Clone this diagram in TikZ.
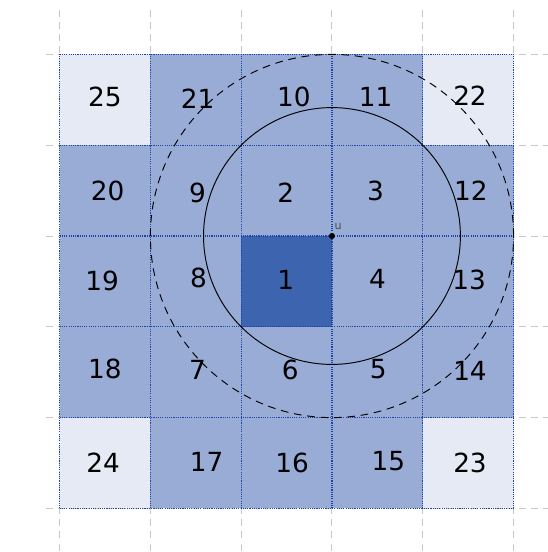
\documentclass[tikz,border=0pt]{standalone}
\usepackage{fontspec}
\setmainfont{DejaVu Sans}
\usepackage{tikz}
\definecolor{celllight}{HTML}{E5EAF5}
\definecolor{cellmid}{HTML}{99ACD6}
\definecolor{celldark}{HTML}{3D64AE}
\definecolor{cellline}{HTML}{1E44AA}
\definecolor{gridgray}{HTML}{C8C8C8}

\begin{document}
\begin{tikzpicture}[x=2cm, y=2cm,
    gridline/.style={gridgray, line width=0.6pt, dash pattern=on 4.4pt off 3.2pt},
    cellborder/.style={cellline, line width=0.7pt, dash pattern=on 0.7pt off 0.7pt},
    num/.style={font=\fontsize{16.5}{20}\selectfont, inner sep=0pt}]
    \useasboundingbox (-3.656, -3.48) rectangle (2.379, 2.599);
    \foreach \k in {-3,...,2} {
      \draw[gridline] (-3.15, \k) -- (2.38, \k);
      \draw[gridline] (\k, 2.49) -- (\k, -3.48);
    }
    \fill[cellmid] (-3, -3) rectangle (2, 2);
    \foreach \cx/\cy in {-3/1, 1/1, -3/-3, 1/-3}
      \fill[celllight] (\cx, \cy) rectangle ++(1, 1);
    \fill[celldark] (-1, -1) rectangle (0, 0);
    \draw[cellborder, step=1] (-3, -3) grid (2, 2);
    \coordinate (u) at (0, 0);
    \draw[line width=0.6pt] (u) circle (1.41421);
    \draw[line width=0.6pt, dash pattern=on 4.8pt off 3.6pt] (u) circle (2);
    \fill (u) circle (1.9pt);
    \node[font=\fontsize{7}{8}\selectfont, text=black!70, inner sep=0pt] (ulbl) at (0.068, 0.10) {u};
    \foreach \px/\py/\t in {-2.50/1.53/25, -1.48/1.51/21, -0.42/1.53/10, 0.48/1.53/11, 1.52/1.54/22,
        -2.47/0.50/20, -1.48/0.48/9, -0.51/0.48/2, 0.48/0.50/3, 1.53/0.50/12,
        -2.53/-0.50/19, -1.47/-0.46/8, -0.51/-0.48/1, 0.50/-0.47/4, 1.51/-0.48/13,
        -2.50/-1.46/18, -1.48/-1.48/7, -0.46/-1.47/6, 0.51/-1.47/5, 1.52/-1.49/14,
        -2.52/-2.50/24, -1.38/-2.49/17, -0.44/-2.50/16, 0.62/-2.48/15, 1.52/-2.50/23}
      \node[num] (c\t) at (\px, \py) {\t};
  \end{tikzpicture}
\end{document}
